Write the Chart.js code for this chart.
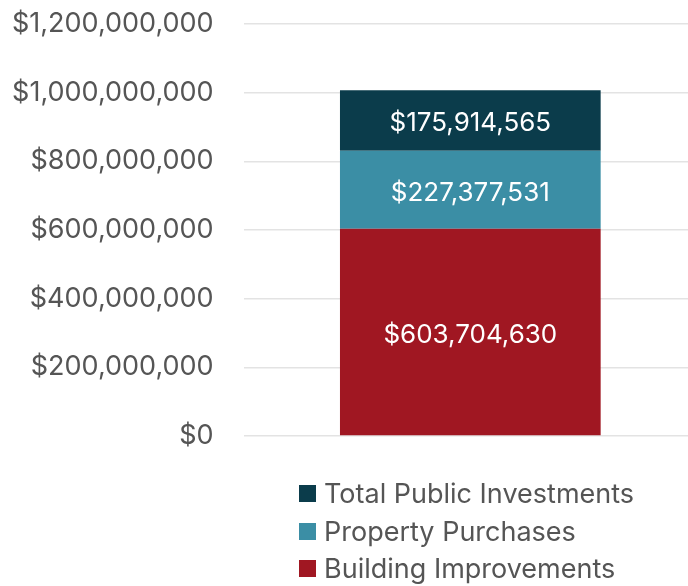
<!DOCTYPE html>
<html>
<head>
<meta charset="utf-8">
<script src="https://cdn.jsdelivr.net/npm/chart.js@4"></script>
<style>
  body { margin: 0; background: #fff; overflow: hidden; }
  #wrap { position: relative; width: 688px; height: 586px; overflow: hidden; }
  #legend { position: absolute; left: 299px; top: 475px; font-family: Inter, sans-serif; font-size: 27px; color: #555; }
  #legend div { height: 37.5px; display: flex; align-items: center; white-space: nowrap; }
  #legend span { display: inline-block; width: 17px; height: 17px; margin-right: 8px; }
</style>
</head>
<body>
<div id="wrap">
  <canvas id="investChart" width="697" height="586"></canvas>
  <div id="legend"></div>
</div>
<script>
// Data
const categories = ['Investments'];
const seriesNames = ['Building Improvements', 'Property Purchases', 'Total Public Investments'];
const buildingImprovements = [603704630];
const propertyPurchases = [227377531];
const publicInvestments = [175914565];
const seriesColors = ['#a01722', '#3b8ea5', '#0b3c4b'];
const yTicks = [0, 200000000, 400000000, 600000000, 800000000, 1000000000, 1200000000];

const fmt = v => '$' + Number(v).toLocaleString('en-US');

// Label in the middle of each stacked segment
const segmentLabels = {
    id: 'segmentLabels',
    afterDatasetsDraw(chart) {
        const c = chart.ctx;
        c.save();
        c.fillStyle = '#fff';
        c.font = '26px Inter, sans-serif';
        c.textAlign = 'center';
        c.textBaseline = 'middle';
        chart.data.datasets.forEach((ds, i) => {
            chart.getDatasetMeta(i).data.forEach((bar, j) => {
                c.fillText(fmt(ds.data[j]), bar.x, (bar.y + bar.base) / 2 + 3);
            });
        });
        c.restore();
    }
};

// canvas is a bit wider than the window so the plot runs off the right edge
const ctx = document.getElementById('investChart').getContext('2d');
const investChart = new Chart(ctx, {
    type: 'bar',
    data: {
        labels: categories,
        datasets: [
            { label: seriesNames[0], data: buildingImprovements, backgroundColor: seriesColors[0] },
            { label: seriesNames[1], data: propertyPurchases, backgroundColor: seriesColors[1] },
            { label: seriesNames[2], data: publicInvestments, backgroundColor: seriesColors[2] }
        ]
    },
    options: {
        responsive: false,
        animation: false,
        layout: { padding: { left: 12, right: 0, top: 24, bottom: 150 } },
        datasets: { bar: { categoryPercentage: 1, barPercentage: 0.575 } },
        scales: {
            x: { stacked: true, display: false },
            y: {
                stacked: true,
                min: 0,
                max: 1200000000,
                afterBuildTicks: axis => { axis.ticks = yTicks.map(v => ({ value: v })); },
                border: { display: false },
                grid: { color: '#e3e3e3', lineWidth: 1.5, drawTicks: true, tickLength: 30, tickColor: 'rgba(0,0,0,0)' },
                ticks: {
                    padding: 0,
                    color: '#555',
                    font: { family: 'Inter, sans-serif', size: 27 },
                    callback: v => fmt(v)
                }
            }
        },
        plugins: {
            legend: { display: false },
            tooltip: { enabled: false }
        }
    },
    plugins: [segmentLabels]
});

// Legend, listed top series first
const legendEl = document.getElementById('legend');
investChart.data.datasets.slice().reverse().forEach(ds => {
    const row = document.createElement('div');
    row.innerHTML = `<span style="background:${ds.backgroundColor}"></span>${ds.label}`;
    legendEl.appendChild(row);
});
</script>
</body>
</html>
